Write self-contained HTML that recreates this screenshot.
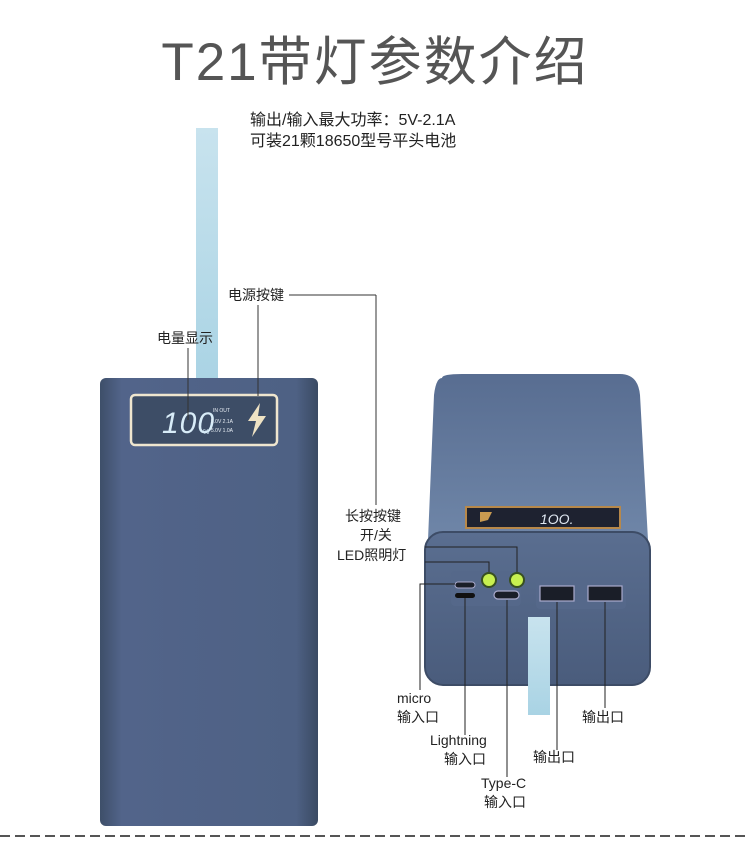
<!DOCTYPE html>
<html><head><meta charset="utf-8"><style>
body{margin:0;background:#fff;}
svg{display:block}
text{font-family:"Liberation Sans","Noto Sans CJK SC",sans-serif;fill:#222}
</style></head><body>
<svg width="750" height="850" viewBox="0 0 750 850" xmlns="http://www.w3.org/2000/svg">
<defs>
<linearGradient id="lb" x1="0" x2="1"><stop offset="0" stop-color="#3e4f69"/><stop offset="0.1" stop-color="#52648a"/><stop offset="0.9" stop-color="#4e6184"/><stop offset="1" stop-color="#3a4a63"/></linearGradient>
<linearGradient id="rt" x1="0" y1="0" x2="0" y2="1"><stop offset="0" stop-color="#586d91"/><stop offset="1" stop-color="#6f86a8"/></linearGradient>
<linearGradient id="rf" x1="0" y1="0" x2="0" y2="1"><stop offset="0" stop-color="#5a6e90"/><stop offset="1" stop-color="#4a5c7c"/></linearGradient>
<linearGradient id="st" x1="0" y1="0" x2="0" y2="1"><stop offset="0" stop-color="#c8e3ee"/><stop offset="1" stop-color="#a9d3e4"/></linearGradient>
</defs>
<text x="375" y="80" text-anchor="middle" font-size="53" style="fill:#555" letter-spacing="2">T21带灯参数介绍</text>
<text x="250" y="125" font-size="16">输出/输入最大功率：5V-2.1A</text>
<text x="250" y="146" font-size="16">可装21颗18650型号平头电池</text>

<rect x="196" y="128" width="22" height="262" fill="url(#st)"/>
<rect x="100" y="378" width="218" height="448" rx="6" fill="url(#lb)"/>
<rect x="131" y="395" width="146" height="50" rx="4" fill="#3d4d66" stroke="#efe6cf" stroke-width="2.5"/>
<text x="162" y="433" font-size="30" font-style="italic" style="fill:#d8ecf8" letter-spacing="1">100</text>
<text x="203" y="434" font-size="7" style="fill:#d8ecf8">%</text>
<text x="213" y="412" font-size="5" style="fill:#e8eef5">IN  OUT</text>
<text x="211" y="423" font-size="5" style="fill:#e8eef5">5.0V 2.1A</text>
<text x="211" y="432" font-size="5" style="fill:#e8eef5">5.0V 1.0A</text>
<path d="M260 403 L248 421 L256 421 L252 437 L266 416 L258 416 Z" fill="#efe3c4"/>

<text x="157" y="343" font-size="14">电量显示</text>
<line x1="188" y1="348" x2="188" y2="420" stroke="#333"/>
<text x="228" y="300" font-size="14">电源按键</text>
<line x1="289" y1="295" x2="376" y2="295" stroke="#333"/>
<line x1="376" y1="295" x2="376" y2="505" stroke="#333"/>
<line x1="258" y1="305" x2="258" y2="396" stroke="#333"/>

<path d="M442 378 Q442 374 462 374 L620 374 Q638 374 640 395 L648 540 L428 540 L434 395 Q436 378 442 378 Z" fill="url(#rt)"/>
<rect x="425" y="532" width="225" height="153" rx="18" fill="url(#rf)"/>
<rect x="425" y="532" width="225" height="153" rx="18" fill="none" stroke="#3d4c66" stroke-width="2"/>
<rect x="466" y="507" width="154" height="21" fill="#1e2230" stroke="#b7884a" stroke-width="2"/>
<path d="M480 512 L492 512 L488 520 L480 522 Z" fill="#c99a50"/>
<text x="540" y="524" font-size="14" font-style="italic" style="fill:#e0e8f2">1OO.</text>
<rect x="451" y="571" width="70" height="35" rx="4" fill="#55688a"/>
<rect x="536" y="579" width="90" height="30" rx="4" fill="#55688a"/>
<circle cx="489" cy="580" r="7" fill="#c8f050" stroke="#385020" stroke-width="2"/>
<circle cx="517" cy="580" r="7" fill="#c8f050" stroke="#385020" stroke-width="2"/>
<rect x="455" y="582" width="20" height="6" rx="3" fill="#1a1e28" stroke="#aac" stroke-width="1"/>
<rect x="455" y="593" width="20" height="5" rx="2.5" fill="#111"/>
<rect x="494" y="591" width="25" height="8" rx="4" fill="#1a1e28" stroke="#aac" stroke-width="1.2"/>
<rect x="540" y="586" width="34" height="15" fill="#1a1e28" stroke="#aac" stroke-width="1.2"/>
<rect x="588" y="586" width="34" height="15" fill="#1a1e28" stroke="#aac" stroke-width="1.2"/>
<rect x="528" y="617" width="22" height="98" fill="url(#st)"/>

<text x="345" y="521" font-size="14">长按按键</text>
<text x="360" y="540" font-size="14">开/关</text>
<text x="337" y="560" font-size="14">LED照明灯</text>
<polyline points="425,547 517,547 517,572" fill="none" stroke="#222"/>
<polyline points="425,562 489,562 489,572" fill="none" stroke="#222"/>
<polyline points="455,584 420,584 420,690" fill="none" stroke="#222"/>
<line x1="465" y1="598" x2="465" y2="735" stroke="#222"/>
<line x1="507" y1="600" x2="507" y2="777" stroke="#222"/>
<line x1="557" y1="602" x2="557" y2="750" stroke="#222"/>
<line x1="605" y1="602" x2="605" y2="708" stroke="#222"/>
<text x="397" y="703" font-size="14">micro</text>
<text x="397" y="722" font-size="14">输入口</text>
<text x="430" y="745" font-size="14">Lightning</text>
<text x="444" y="764" font-size="14">输入口</text>
<text x="481" y="788" font-size="14">Type-C</text>
<text x="484" y="807" font-size="14">输入口</text>
<text x="533" y="762" font-size="14">输出口</text>
<text x="582" y="722" font-size="14">输出口</text>

<line x1="0" y1="836" x2="750" y2="836" stroke="#555" stroke-width="2" stroke-dasharray="10,5"/>
</svg>
</body></html>
